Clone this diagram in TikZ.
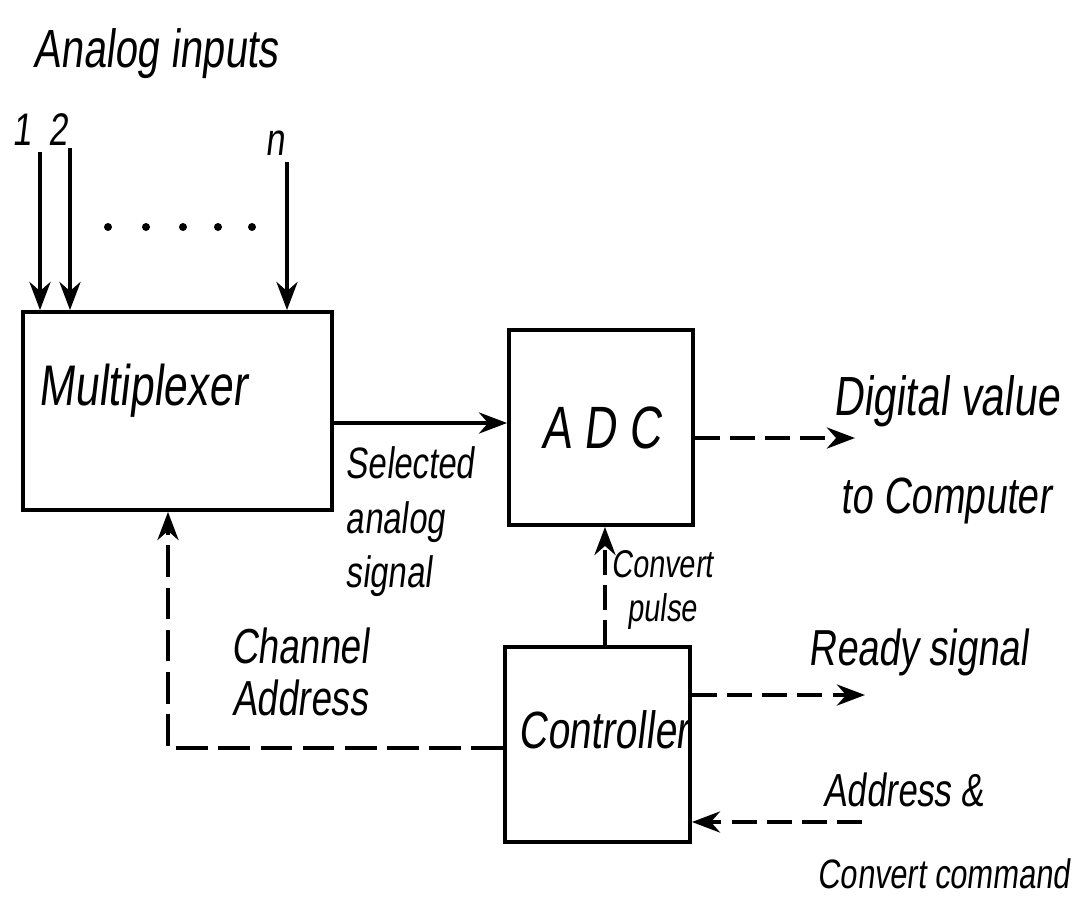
\documentclass[tikz,border=0pt]{standalone}
\usepackage{fontspec}
\setmainfont{Liberation Sans}[FakeStretch=0.75,FakeSlant=0.12]
\usetikzlibrary{arrows.meta}
\newcommand{\myfs}[2]{\fontsize{#1}{#2}\selectfont}
\begin{document}
\begin{tikzpicture}[x=0.1mm,y=-0.1mm,
  box/.style={draw,line width=1.1pt,inner sep=0pt},
  lbl/.style={inner sep=0pt},
  conn/.style={line width=1.1pt},
  tip/.style={-{Stealth[length=8pt,width=6pt]}},
  dsh/.style={dash pattern=on 7pt off 3pt},
  dshlong/.style={dash pattern=on 9pt off 3pt}]
\useasboundingbox (0,0) rectangle (1080,899);

% boxes
\node[box,minimum width=30.9mm,minimum height=19.8mm] (mux) at (177.5,411) {};
\node[box,minimum width=18.4mm,minimum height=19.5mm,font=\myfs{17}{17}] (adc) at (601,427.5) {A D C};
\node[box,minimum width=18.5mm,minimum height=19.5mm] (ctrl) at (597.5,744.5) {};

% box texts
\node[lbl,anchor=base west,font=\myfs{16.3}{16.3}] (muxtxt) at (38,405) {Multiplexer};
\node[lbl,anchor=base west,font=\myfs{14.9}{14.9}] (ctrltxt) at (518,748) {Controller};

% titles and labels
\node[lbl,anchor=base west,font=\myfs{15.3}{15.3}] (title) at (33,67) {Analog inputs};
\node[lbl,anchor=base,font=\myfs{13}{13}] (n1) at (22,145) {1};
\node[lbl,anchor=base,font=\myfs{13}{13}] (n2) at (58,145) {2};
\node[lbl,anchor=base,font=\myfs{13}{13}] (nn) at (275,155) {n};

\node[lbl,anchor=center,align=left,font=\myfs{12.5}{15.5}] (sel) at (410,522) {Selected\\analog\\signal};
\node[lbl,anchor=center,align=center,font=\myfs{11}{12.5}] (cp) at (662,590) {Convert\\pulse};
\node[lbl,anchor=center,align=center,font=\myfs{14}{14.8}] (chad) at (300,672) {Channel\\Address};

\node[lbl,anchor=base west,font=\myfs{15.7}{15.7}] (dig) at (833,415) {Digital value};
\node[lbl,anchor=base west,font=\myfs{14.5}{14.5}] (toc) at (840,513) {to Computer};
\node[lbl,anchor=base west,font=\myfs{14.4}{14.4}] (rdy) at (808,665) {Ready signal};
\node[lbl,anchor=base west,font=\myfs{13.2}{13.2}] (addr) at (823,806) {Address \&};
\node[lbl,anchor=base west,font=\myfs{11.7}{11.7}] (cc) at (817,888) {Convert command};

% dots
\foreach \x in {108,146,183,218,252} \fill (\x,227) circle (4);

% input arrows
\coordinate (in1) at (40,152);
\coordinate (in2) at (70,148);
\coordinate (inn) at (287,162);
\draw[conn,tip] (in1) -- (in1 |- mux.north);
\draw[conn,tip] (in2) -- (in2 |- mux.north);
\draw[conn,tip] (inn) -- (inn |- mux.north);

% mux -> adc
\coordinate (m2a) at (332,423);
\draw[conn,tip] (mux.east |- m2a) -- (adc.west |- m2a);

% adc -> digital value
\coordinate (dv) at (855,438);
\draw[conn,dsh,tip] (adc.east |- dv) -- (dv);

% controller -> adc (convert pulse)
\coordinate (cpx) at (605,600);
\draw[conn,dsh,tip] (ctrl.north -| cpx) -- (adc.south -| cpx);

% controller -> mux (channel address)
\coordinate (ca) at (168,748);
\draw[conn,dshlong,tip] (ctrl.west |- ca) -- (ca) -- (ca |- mux.south);

% ready signal
\coordinate (rs) at (865,695);
\draw[conn,dsh,tip] (ctrl.east |- rs) -- (rs);

% address & convert command
\coordinate (ac) at (862,822);
\draw[conn,dsh,tip] (ac) -- (ctrl.east |- ac);
\end{tikzpicture}
\end{document}
